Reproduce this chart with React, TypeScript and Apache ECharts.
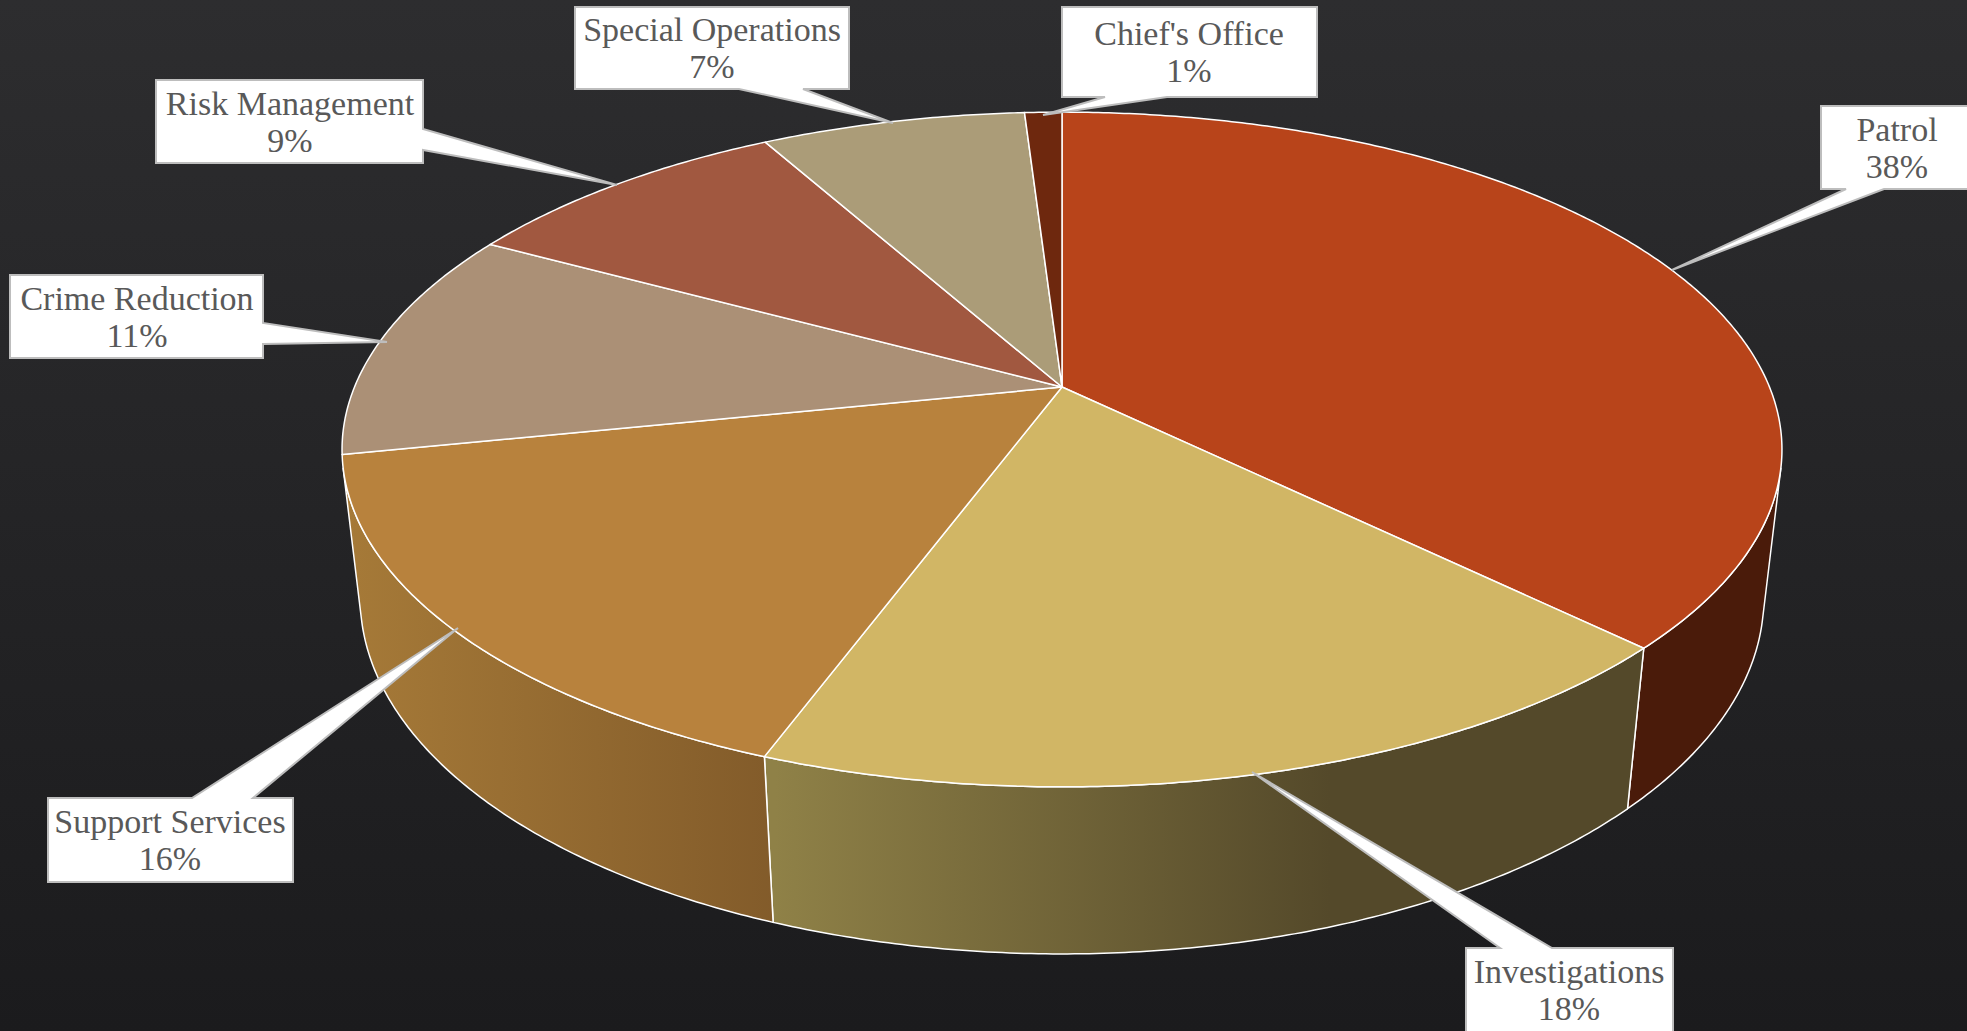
import React, { useEffect, useRef } from "react";
import * as echarts from "echarts";

const categories = ["Patrol", "Investigations", "Support Services", "Crime Reduction", "Risk Management", "Special Operations", "Chief's Office"];
const shares = [37.3, 18.35, 16.15, 11.1, 9.0, 7.1, 1.0];
const percentLabels = [38, 18, 16, 11, 9, 7, 1];
const topColors = ["#B8441A", "#D1B665", "#B8823D", "#AB9076", "#A15840", "#AB9C78", "#6E280E"];

// 3D view of the disc: a projective camera fitted to the picture
const CX = 1062;
const RADIUS = 707.5;
const APEX_Y = 387;
const DEPTH_Y = 254.1;
const PERSP = 0.1852;
const THICK_Y = 160;
const THICK_P = 0.025;

function project(angleDeg: number, r: number, z: number): [number, number] {
  const a = (angleDeg * Math.PI) / 180;
  const u = Math.sin(a) * r;
  const v = Math.cos(a) * r;
  const den = 1 + PERSP * v + THICK_P * z;
  return [CX + (RADIUS * u) / den, (APEX_Y - DEPTH_Y * v + THICK_Y * z) / den];
}

function arc(start: number, end: number, z: number): [number, number][] {
  const pts: [number, number][] = [];
  const n = Math.max(2, Math.ceil(end - start) * 2);
  for (let i = 0; i <= n; i++) pts.push(project(start + ((end - start) * i) / n, 1, z));
  return pts;
}

// Angle at which the wall's vertical edges graze the disc's outline, seen from the vanishing point
const VANISH_Y = THICK_Y / THICK_P;
function silhouetteAngle(): number {
  let best = 90;
  let bestRatio = -Infinity;
  for (let t = 60; t <= 120; t += 0.1) {
    const [x, y] = project(t, 1, 0);
    const ratio = (x - CX) / (VANISH_Y - y);
    if (ratio > bestRatio) { bestRatio = ratio; best = t; }
  }
  return best;
}
const FRONT_START = silhouetteAngle();
const FRONT_END = 360 - FRONT_START;

function wallFill(i: number): any {
  const grad = (x: number, x2: number, c1: string, c2: string) => ({
    type: "linear", x, y: 0, x2, y2: 0, global: true,
    colorStops: [{ offset: 0, color: c1 }, { offset: 1, color: c2 }],
  });
  if (i === 0) return "#4A1B0A";
  if (i === 1) return grad(775, 1330, "#8F8147", "#54492A");
  if (i === 2) return grad(345, 778, "#A67A38", "#825B2A");
  return "#A67A38";
}

type Box = { outline: [number, number][]; tx: number; ty: number };
const callouts: Box[] = [
  { outline: [[1821, 106], [1985, 106], [1985, 189], [1884, 189], [1672, 270], [1846, 189], [1821, 189]], tx: 1897, ty: 148 },
  { outline: [[1466, 948], [1500, 948], [1252, 772], [1552, 948], [1673, 948], [1673, 1045], [1466, 1045]], tx: 1569, ty: 990 },
  { outline: [[48, 798], [192, 798], [458, 628], [253, 798], [293, 798], [293, 882], [48, 882]], tx: 170, ty: 840 },
  { outline: [[10, 275], [263, 275], [263, 323], [387, 342], [263, 344], [263, 358], [10, 358]], tx: 137, ty: 317 },
  { outline: [[156, 80], [423, 80], [423, 129], [617, 185], [423, 150], [423, 163], [156, 163]], tx: 290, ty: 122 },
  { outline: [[575, 7], [849, 7], [849, 89], [803, 89], [893, 123], [739, 89], [575, 89]], tx: 712, ty: 48 },
  { outline: [[1062, 7], [1317, 7], [1317, 97], [1167, 97], [1043, 115], [1105, 97], [1062, 97]], tx: 1189, ty: 52 },
];

const edges: number[] = [];
shares.reduce((acc, s) => { edges.push(acc); return acc + s; }, 0);

function makeOption(): any {
  const sliceData = shares.map((s, i) => [i, (edges[i] / 100) * 360, ((edges[i] + s) / 100) * 360]);
  const line = { stroke: "#FFFFFF", lineWidth: 1.5, lineJoin: "round" };
  return {
    animation: false,
    backgroundColor: {
      type: "linear", x: 0, y: 0, x2: 0, y2: 1,
      colorStops: [{ offset: 0, color: "#2D2D2F" }, { offset: 1, color: "#1B1B1D" }],
    },
    series: [
      {
        type: "custom", coordinateSystem: "none", silent: true, z: 1, clip: false,
        data: sliceData,
        renderItem: (_p: any, api: any) => {
          const i = api.value(0);
          const a = Math.max(api.value(1), FRONT_START);
          const b = Math.min(api.value(2), FRONT_END);
          if (b <= a) return { type: "group", children: [] };
          const pts = [...arc(a, b, 0), ...arc(a, b, 1).reverse()];
          return { type: "polygon", shape: { points: pts }, style: { fill: wallFill(i), ...line } };
        },
      },
      {
        type: "custom", coordinateSystem: "none", silent: true, z: 2, clip: false,
        data: sliceData,
        renderItem: (_p: any, api: any) => {
          const i = api.value(0), a = api.value(1), b = api.value(2);
          const pts = [project(0, 0, 0), ...arc(a, b, 0)];
          return { type: "polygon", shape: { points: pts }, style: { fill: topColors[i], ...line } };
        },
      },
      {
        type: "custom", coordinateSystem: "none", silent: true, z: 3, clip: false,
        data: percentLabels.map((p, i) => [i, p]),
        renderItem: (_p: any, api: any) => {
          const i = api.value(0);
          const c = callouts[i];
          return {
            type: "group",
            children: [
              { type: "polygon", shape: { points: c.outline }, style: { fill: "#FFFFFF", stroke: "#BDBDBD", lineWidth: 2, lineJoin: "miter" } },
              {
                type: "text", x: c.tx, y: c.ty,
                style: {
                  text: `${categories[i]}\n${api.value(1)}%`,
                  fill: "#595959", font: "34px 'Liberation Serif'", lineHeight: 37,
                  align: "center", verticalAlign: "middle",
                },
              },
            ],
          };
        },
      },
    ],
  };
}

export default function App() {
  const ref = useRef<HTMLDivElement>(null);
  useEffect(() => {
    const chart = echarts.init(ref.current!, undefined, { renderer: "svg" });
    chart.setOption(makeOption());
    return () => chart.dispose();
  }, []);
  return <div ref={ref} style={{ position: "fixed", left: 0, top: 0, width: 1967, height: 1031 }} />;
}
